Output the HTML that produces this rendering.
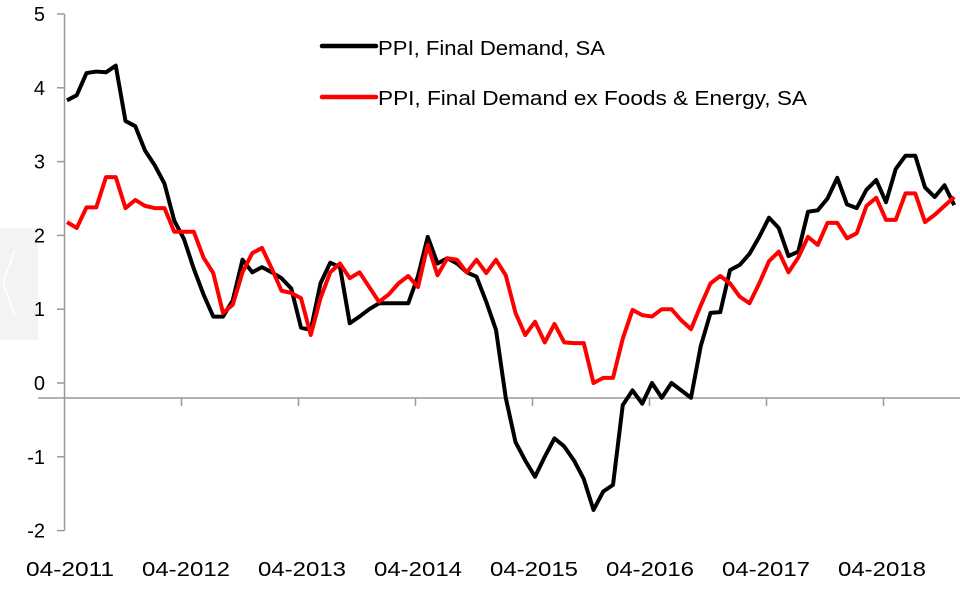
<!DOCTYPE html>
<html><head><meta charset="utf-8"><style>
html,body{margin:0;padding:0;background:#fff;}
svg text{font-family:"Liberation Sans",sans-serif;font-size:20px;fill:#000;}
</style></head><body>
<svg width="960" height="590">
<rect x="0" y="228" width="38" height="112" fill="#f3f3f3"/>
<polyline points="15,250 3,283 15,316" fill="none" stroke="#fff" stroke-width="1.5"/>
<g id="axes"></g>
<g id="series"></g>
<g>
<line x1="322" y1="46" x2="376" y2="46" stroke="#000" stroke-width="4.5" stroke-linecap="round"/>
<text x="378" y="55" textLength="227" lengthAdjust="spacingAndGlyphs">PPI, Final Demand, SA</text>
<line x1="322" y1="97" x2="376" y2="97" stroke="#f00" stroke-width="4.5" stroke-linecap="round"/>
<text x="378" y="105" textLength="429" lengthAdjust="spacingAndGlyphs">PPI, Final Demand ex Foods &amp; Energy, SA</text>
</g>
</svg>
<script>
const yTicks=[5,4,3,2,1,0,-1,-2];
const xLabels=["04-2011","04-2012","04-2013","04-2014","04-2015","04-2016","04-2017","04-2018"];
const ppi=[3.83,3.9,4.2,4.22,4.21,4.3,3.55,3.48,3.15,2.95,2.7,2.2,1.95,1.55,1.2,0.9,0.9,1.12,1.67,1.5,1.57,1.5,1.42,1.28,0.75,0.72,1.35,1.63,1.57,0.81,0.9,1.0,1.08,1.08,1.08,1.08,1.45,1.98,1.62,1.69,1.62,1.5,1.44,1.1,0.72,-0.2,-0.8,-1.05,-1.27,-1.0,-0.75,-0.86,-1.05,-1.3,-1.72,-1.47,-1.38,-0.3,-0.1,-0.28,0.0,-0.2,0.0,-0.1,-0.2,0.5,0.95,0.96,1.53,1.6,1.75,1.98,2.24,2.1,1.72,1.78,2.32,2.34,2.5,2.78,2.42,2.37,2.62,2.75,2.45,2.9,3.08,3.08,2.65,2.52,2.68,2.41];
const core=[2.18,2.1,2.38,2.38,2.79,2.79,2.37,2.48,2.4,2.37,2.37,2.05,2.05,2.05,1.7,1.49,0.95,1.06,1.5,1.76,1.83,1.55,1.25,1.22,1.15,0.65,1.15,1.5,1.62,1.42,1.5,1.3,1.1,1.2,1.35,1.45,1.3,1.87,1.46,1.69,1.67,1.5,1.67,1.49,1.67,1.46,0.95,0.65,0.83,0.55,0.8,0.55,0.54,0.54,0.0,0.07,0.07,0.6,0.99,0.92,0.9,1.0,1.0,0.85,0.73,1.05,1.35,1.45,1.35,1.17,1.08,1.35,1.65,1.78,1.5,1.7,1.98,1.87,2.17,2.17,1.96,2.03,2.4,2.51,2.21,2.21,2.57,2.57,2.18,2.28,2.4,2.52];
const NS="http://www.w3.org/2000/svg";
function X(i){return 67+i*9.75;}
function Y(v){return 383-v*73.8;}
function mk(t,a,p){const e=document.createElementNS(NS,t);for(const k in a)e.setAttribute(k,a[k]);p.appendChild(e);return e;}
const ax=document.getElementById('axes'),se=document.getElementById('series');
const ya=mk('line',{x1:64.5,y1:Y(5),x2:64.5,y2:Y(-2),stroke:'#999','stroke-width':1.5},ax);


yTicks.forEach(v=>{
 const t=mk('line',{x1:57,x2:64.5,y1:Y(v),y2:Y(v),stroke:'#999','stroke-width':1.5},ax);
 
 
 const l=mk('text',{x:45,y:Y(v)+7,'text-anchor':'end'},ax);l.textContent=v;
 
 
});
const xa=mk('line',{x1:38,x2:960,y1:398,y2:398,stroke:'#999','stroke-width':1.5},ax);


xLabels.forEach((s,k)=>{
 if(k>0){const t=mk('line',{x1:64.5+117*k,x2:64.5+117*k,y1:398,y2:406,stroke:'#999','stroke-width':1.5},ax);
 
 }
 const l=mk('text',{x:70+116*k,y:576,'text-anchor':'middle',textLength:88,lengthAdjust:'spacingAndGlyphs'},ax);l.textContent=s;
 
 
});
function line(d,c,n){const p=mk('polyline',{points:d.map((v,i)=>X(i)+','+Y(v)).join(' '),fill:'none',stroke:c,'stroke-width':4,'stroke-linejoin':'round'},se);
 
 }
line(ppi,'#000','ppi-final-demand-line');
line(core,'#f00','ppi-core-line');
</script>
</body></html>
